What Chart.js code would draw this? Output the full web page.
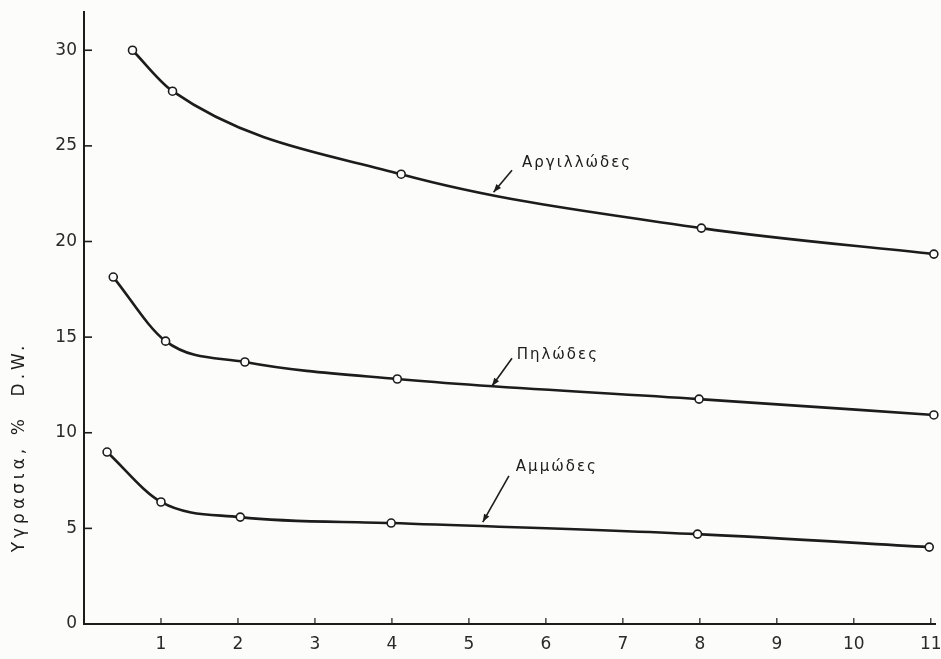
<!DOCTYPE html>
<html>
<head>
<meta charset="utf-8">
<script src="https://cdn.jsdelivr.net/npm/chart.js@4"></script>
<style>
  html, body { margin: 0; padding: 0; background: #fcfcfb; }
  #wrap { width: 941px; height: 659px; position: relative; }
</style>
</head>
<body>
<div id="wrap"><canvas id="c" width="941" height="659"></canvas></div>
<script>
// Moisture content (% dry weight) of three soil types
const xTicks = [1, 2, 3, 4, 5, 6, 7, 8, 9, 10, 11];
const yTicks = [0, 5, 10, 15, 20, 25, 30];

const seriesNames = ['Αργιλλώδες', 'Πηλώδες', 'Αμμώδες'];

const clayX = [0.63, 1.15, 4.12, 8.02, 11.04];
const clayY = [30.0, 27.86, 23.52, 20.70, 19.34];

const loamX = [0.38, 1.06, 2.09, 4.07, 7.99, 11.04];
const loamY = [18.14, 14.79, 13.70, 12.81, 11.76, 10.93];

const sandX = [0.30, 1.00, 2.03, 3.99, 7.97, 10.98];
const sandY = [8.99, 6.38, 5.59, 5.28, 4.70, 4.02];

const yTitle = 'Υγρασια, %  D.W.';

const ink = '#1c1c1c';

function toPoints(xs, ys) {
  return xs.map((x, i) => ({ x: x, y: ys[i] }));
}

function curve(name, xs, ys) {
  return {
    label: name,
    data: toPoints(xs, ys),
    borderColor: ink,
    borderWidth: 2.6,
    cubicInterpolationMode: 'monotone',
    pointRadius: 4,
    pointBorderWidth: 1.6,
    pointBackgroundColor: '#fdfdfd',
    pointBorderColor: ink,
    clip: false,
    fill: false
  };
}

// Curve names with short pointer arrows, placed in data units
const curveNotes = [
  { text: seriesNames[0], tx: 5.69, ty: 24.1, ax: 5.56, ay: 23.73, hx: 5.32, hy: 22.58 },
  { text: seriesNames[1], tx: 5.62, ty: 14.06, ax: 5.56, ay: 13.9, hx: 5.30, hy: 12.44 },
  { text: seriesNames[2], tx: 5.61, ty: 8.2, ax: 5.52, ay: 7.74, hx: 5.18, hy: 5.33 }
];

const decorations = {
  id: 'decorations',
  afterDraw(chart) {
    const ctx = chart.ctx;
    const xs = chart.scales.x, ys = chart.scales.y;
    const area = chart.chartArea;
    ctx.save();
    ctx.strokeStyle = ink;
    ctx.fillStyle = ink;

    // inward tick marks
    ctx.lineWidth = 1.6;
    yTicks.forEach(v => {
      if (v === 0) return;
      const py = ys.getPixelForValue(v);
      ctx.beginPath();
      ctx.moveTo(area.left, py);
      ctx.lineTo(area.left + 8, py);
      ctx.stroke();
    });
    ctx.lineWidth = 1.2;
    xTicks.forEach(v => {
      const px = xs.getPixelForValue(v);
      ctx.beginPath();
      ctx.moveTo(px, area.bottom);
      ctx.lineTo(px, area.bottom - 6);
      ctx.stroke();
    });

    // curve names and arrows
    ctx.font = '15px "DejaVu Sans"';
    ctx.letterSpacing = '2px';
    ctx.textAlign = 'left';
    ctx.textBaseline = 'middle';
    curveNotes.forEach(n => {
      ctx.fillText(n.text, xs.getPixelForValue(n.tx), ys.getPixelForValue(n.ty));
      const x0 = xs.getPixelForValue(n.ax), y0 = ys.getPixelForValue(n.ay);
      const x1 = xs.getPixelForValue(n.hx), y1 = ys.getPixelForValue(n.hy);
      ctx.lineWidth = 1.6;
      ctx.beginPath();
      ctx.moveTo(x0, y0);
      ctx.lineTo(x1, y1);
      ctx.stroke();
      const ang = Math.atan2(y1 - y0, x1 - x0);
      const L = 8, W = 3;
      ctx.beginPath();
      ctx.moveTo(x1, y1);
      ctx.lineTo(x1 - L * Math.cos(ang) + W * Math.sin(ang), y1 - L * Math.sin(ang) - W * Math.cos(ang));
      ctx.lineTo(x1 - L * Math.cos(ang) - W * Math.sin(ang), y1 - L * Math.sin(ang) + W * Math.cos(ang));
      ctx.closePath();
      ctx.fill();
    });

    // vertical axis title
    ctx.font = '17px "DejaVu Sans"';
    ctx.letterSpacing = '4px';
    ctx.textAlign = 'center';
    ctx.translate(20, 447);
    ctx.rotate(-Math.PI / 2);
    ctx.fillText(yTitle, 0, 0);
    ctx.restore();
  }
};

new Chart(document.getElementById('c'), {
  type: 'line',
  data: {
    datasets: [
      curve(seriesNames[0], clayX, clayY),
      curve(seriesNames[1], loamX, loamY),
      curve(seriesNames[2], sandX, sandY)
    ]
  },
  options: {
    responsive: false,
    animation: false,
    events: [],
    layout: { padding: { left: 0, right: 1, top: 12, bottom: 0 } },
    plugins: { legend: { display: false }, tooltip: { enabled: false } },
    scales: {
      x: {
        type: 'linear',
        min: 0,
        max: 11.06,
        afterBuildTicks(s) { s.ticks = xTicks.map(v => ({ value: v })); },
        afterFit(s) { s.height = 35; s.paddingLeft = 0; s.paddingRight = 0; },
        grid: { display: true, drawOnChartArea: false, drawTicks: false },
        border: { display: true, color: ink, width: 2 },
        ticks: {
          padding: 10,
          color: '#2a2a2a',
          font: { family: 'DejaVu Sans', size: 17 },
          maxRotation: 0,
          autoSkip: false
        }
      },
      y: {
        type: 'linear',
        min: 0,
        max: 32,
        afterBuildTicks(s) { s.ticks = yTicks.map(v => ({ value: v })); },
        afterFit(s) { s.width = 84; s.paddingTop = 0; s.paddingBottom = 0; },
        grid: { display: true, drawOnChartArea: false, drawTicks: false },
        border: { display: true, color: ink, width: 2 },
        ticks: {
          padding: 7,
          color: '#2a2a2a',
          font: { family: 'DejaVu Sans', size: 17 },
          autoSkip: false
        }
      }
    }
  },
  plugins: [decorations]
});
</script>
</body>
</html>
